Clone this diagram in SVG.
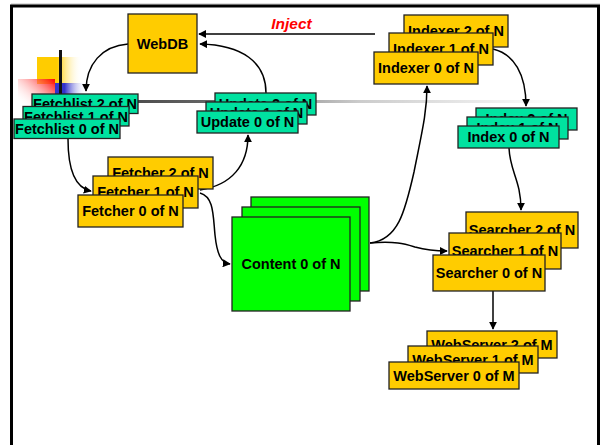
<svg xmlns="http://www.w3.org/2000/svg" width="600" height="445" viewBox="0 0 600 445">
<defs>
<linearGradient id="gY" x1="0" y1="0" x2="1" y2="0"><stop offset="0.45" stop-color="#FFCC00"/><stop offset="1" stop-color="#FFFFFF" stop-opacity="0"/></linearGradient>
<linearGradient id="gR" x1="1" y1="0" x2="0" y2="1"><stop offset="0" stop-color="#FF0000"/><stop offset="0.85" stop-color="#FFFFFF" stop-opacity="0"/></linearGradient>
<linearGradient id="gB" x1="0" y1="0" x2="1" y2="0"><stop offset="0.3" stop-color="#3333CC"/><stop offset="1" stop-color="#FFFFFF" stop-opacity="0"/></linearGradient>
<linearGradient id="gL" gradientUnits="userSpaceOnUse" x1="60" y1="0" x2="560" y2="0"><stop offset="0" stop-color="#333333"/><stop offset="0.3" stop-color="#666666"/><stop offset="0.6" stop-color="#CCCCCC"/><stop offset="1" stop-color="#FFFFFF"/></linearGradient>
<marker id="ah" viewBox="0 0 10 10" refX="9" refY="5" markerWidth="8" markerHeight="8" markerUnits="userSpaceOnUse" orient="auto"><path d="M0,0 L10,5 L0,10 z" fill="#000"/></marker>
</defs>
<style>
.y{fill:#FFCC00;stroke:#222;stroke-width:1.3}
.t{fill:#00E2A0;stroke:#222;stroke-width:1.3}
.g{fill:#00FF00;stroke:#222;stroke-width:1.3}
text{font-family:"Liberation Sans",Arial,sans-serif;font-weight:bold;font-size:14.5px;fill:#000;text-anchor:middle}
.c path{fill:none;stroke:#000;stroke-width:1.5;marker-end:url(#ah)}
</style>
<rect x="0" y="0" width="600" height="445" fill="#FFFFFF"/>
<g id="frame">
<line x1="11" y1="4" x2="600" y2="4" stroke="#BBBBBB" stroke-width="1"/>
<path d="M11.5,460 L11.5,6 L598.5,6 L598.5,460" fill="none" stroke="#000" stroke-width="3"/>
</g>
<g id="decor">
<rect x="37" y="57" width="45" height="27" fill="url(#gY)"/>
<rect x="55" y="83" width="32" height="11" fill="url(#gB)"/>
<rect x="18" y="79" width="37" height="34" fill="url(#gR)"/>
<line x1="60.5" y1="50" x2="60.5" y2="95" stroke="#111" stroke-width="3"/>
<rect x="60" y="100" width="500" height="3" fill="url(#gL)"/>
</g>
<g class="c" id="connectors">
<path d="M375,34 L199,34"/>
<path d="M266,93 C266,62 242,45 200,44"/>
<path d="M128,44 C102,46 86,64 86,91"/>
<path d="M68,139 C68,168 75,188 91,191"/>
<path d="M200,190 C232,185 248,165 248,135"/>
<path d="M200,193 C214,197 213,215 215,235 C217,254 221,263 230,264"/>
<path d="M370,243 C398,240 405,212 414,172 C422,132 427,112 427,86"/>
<path d="M370,243 C396,241 405,244 415,247 C426,250 435,251 447,251"/>
<path d="M493,49 C514,54 526,74 526,106"/>
<path d="M509,148 C510,172 521,180 521,210"/>
<path d="M493,291 L493,329"/>
</g>
<text x="291.5" y="29" style="fill:#FF0000;font-style:italic;font-size:15.5px">Inject</text>
<g id="webdb"><rect class="y" x="128" y="14" width="69" height="59"/><text x="162.5" y="49">WebDB</text></g>
<g id="indexer2"><rect class="y" x="404" y="15" width="104" height="32"/><text x="456" y="36">Indexer 2 of N</text></g>
<g id="indexer1"><rect class="y" x="389" y="33" width="104" height="32"/><text x="441" y="54">Indexer 1 of N</text></g>
<g id="indexer0"><rect class="y" x="374" y="52" width="104" height="32"/><text x="426" y="73">Indexer 0 of N</text></g>
<g id="fetchlist2"><rect class="t" x="32" y="94" width="106" height="19.5"/><text x="85" y="109">Fetchlist 2 of N</text></g>
<g id="fetchlist1"><rect class="t" x="23" y="106.5" width="106" height="19.5"/><text x="76" y="121.5">Fetchlist 1 of N</text></g>
<g id="fetchlist0"><rect class="t" x="14" y="119" width="106" height="19.5"/><text x="67" y="134">Fetchlist 0 of N</text></g>
<g id="update2"><rect class="t" x="215" y="93" width="101" height="22"/><text x="265.5" y="109">Update 2 of N</text></g>
<g id="update1"><rect class="t" x="206" y="102" width="101" height="22"/><text x="256.5" y="118">Update 1 of N</text></g>
<g id="update0"><rect class="t" x="197" y="111" width="101" height="22"/><text x="247.5" y="127">Update 0 of N</text></g>
<g id="index2"><rect class="t" x="476" y="108" width="101" height="22"/><text x="526.5" y="124">Index 2 of N</text></g>
<g id="index1"><rect class="t" x="467" y="117" width="101" height="22"/><text x="517.5" y="133">Index 1 of N</text></g>
<g id="index0"><rect class="t" x="458" y="126" width="101" height="22"/><text x="508.5" y="142">Index 0 of N</text></g>
<g id="fetcher2"><rect class="y" x="108" y="157" width="105" height="32"/><text x="160.5" y="178">Fetcher 2 of N</text></g>
<g id="fetcher1"><rect class="y" x="93" y="176" width="105" height="32"/><text x="145.5" y="197">Fetcher 1 of N</text></g>
<g id="fetcher0"><rect class="y" x="78" y="195" width="105" height="32"/><text x="130.5" y="216">Fetcher 0 of N</text></g>
<g id="content2"><rect class="g" x="251" y="197" width="118" height="94"/></g>
<g id="content1"><rect class="g" x="242" y="207" width="118" height="94"/></g>
<g id="content0"><rect class="g" x="232" y="217" width="118" height="94"/><text x="291" y="269">Content 0 of N</text></g>
<g id="searcher2"><rect class="y" x="466" y="212" width="112" height="36"/><text x="522" y="235">Searcher 2 of N</text></g>
<g id="searcher1"><rect class="y" x="449" y="233" width="112" height="36"/><text x="505" y="256">Searcher 1 of N</text></g>
<g id="searcher0"><rect class="y" x="433" y="255" width="112" height="36"/><text x="489" y="278">Searcher 0 of N</text></g>
<g id="webserver2"><rect class="y" x="427" y="331" width="130" height="27"/><text x="492" y="350">WebServer 2 of M</text></g>
<g id="webserver1"><rect class="y" x="408" y="346" width="130" height="27"/><text x="473" y="365">WebServer 1 of M</text></g>
<g id="webserver0"><rect class="y" x="389" y="362" width="130" height="27"/><text x="454" y="381">WebServer 0 of M</text></g>
</svg>
